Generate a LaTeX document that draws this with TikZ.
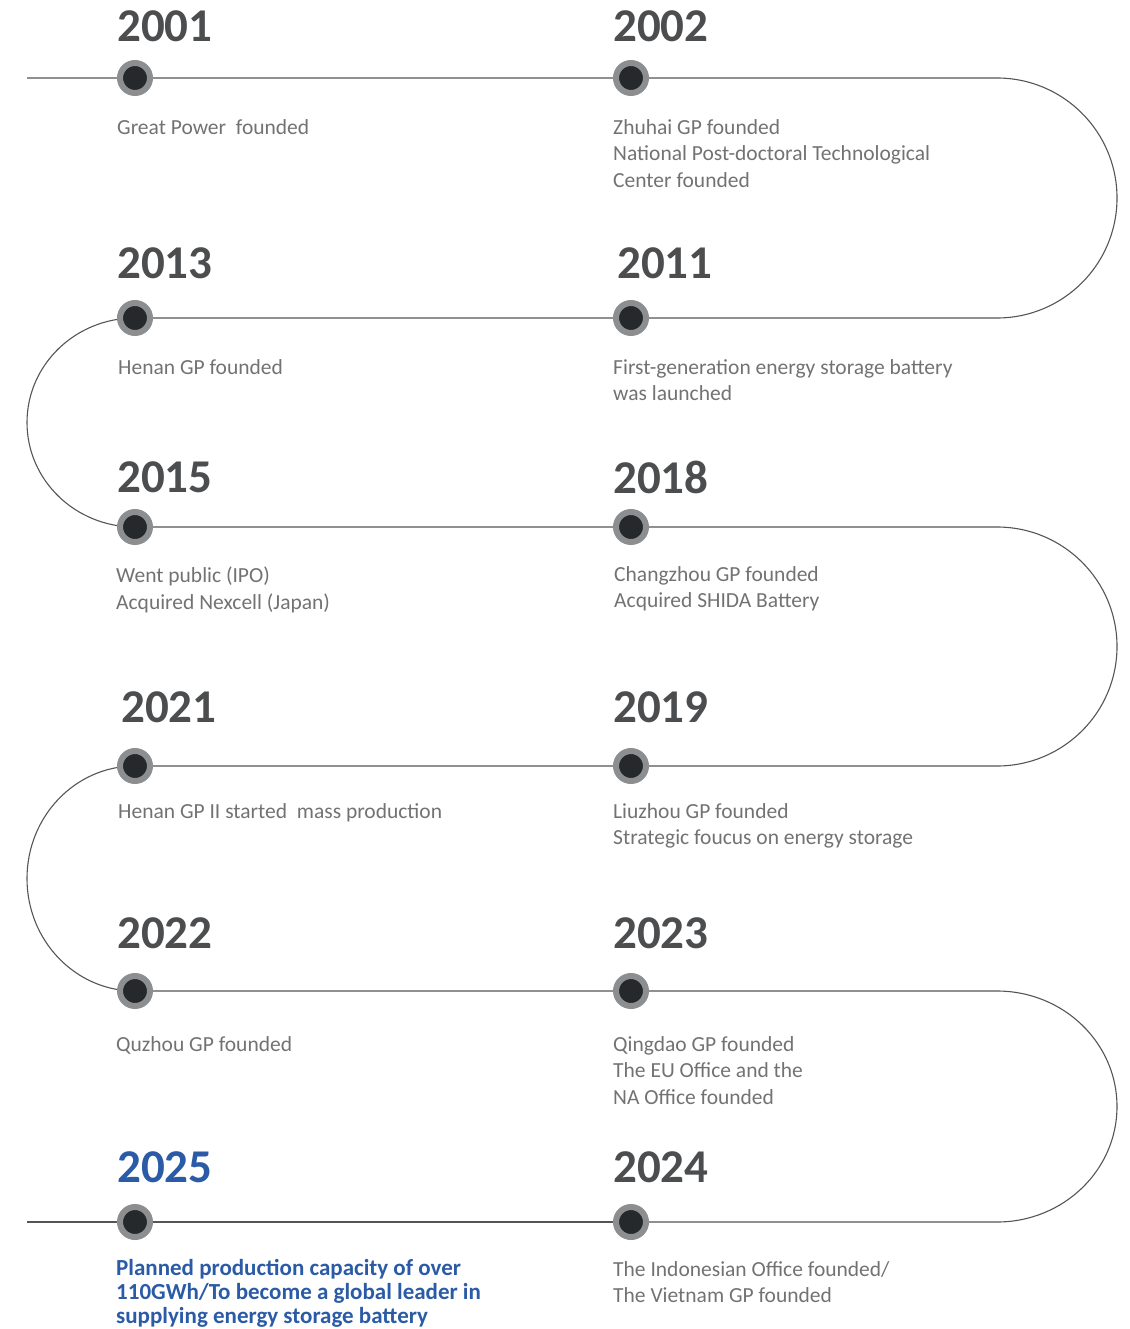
\documentclass[tikz,border=0pt]{standalone}
\usepackage{fontspec}
\setmainfont{Carlito}
\usetikzlibrary{backgrounds}
\definecolor{yeargray}{HTML}{4B4D4F}
\definecolor{textgray}{HTML}{727272}
\definecolor{linegray}{HTML}{555555}
\definecolor{ringgray}{HTML}{8C8E8F}
\definecolor{dotblack}{HTML}{26292C}
\definecolor{planblue}{HTML}{2B5BA6}
\tikzstyle{dot}=[circle,fill=dotblack,draw=ringgray,line width=6pt,minimum size=30pt,inner sep=0pt]
\tikzstyle{year}=[anchor=west,inner sep=0pt,text=yeargray,font=\fontsize{47}{47}\selectfont\bfseries]
\tikzstyle{event}=[anchor=north west,inner sep=0pt,align=left,text=textgray,font=\fontsize{21.5}{26.5}\selectfont]
\tikzstyle{track}=[draw=linegray,line width=1.1pt]

\begin{document}
\begin{tikzpicture}[x=1pt,y=-1pt]
   \useasboundingbox (0,0) rectangle (1129,1329);

    % dots on the track
    \foreach \x/\y/\name in {135/78/2001,631/78/2002,135/318/2013,631/318/2011,
                             135/527/2015,631/527/2018,135/766/2021,631/766/2019,
                             135/991/2022,631/991/2023,135/1222/2025,631/1222/2024}
        \node[dot] (d\name) at (\x,\y) {};

    % free ends of the track
    \coordinate (start) at (27,78);
    \coordinate (finish) at (27,1222);
    \foreach \y/\name in {78/r1,318/r2,527/r3,766/r4,991/r5,1222/r6}
        \coordinate (\name) at (997,\y);

    % years
    \foreach \x/\y/\name in {117/26/2001,613/26/2002,117/263/2013,617/263/2011,
                             117/477/2015,613/477/2018,121/707/2021,613/707/2019,
                             117/933/2022,613/933/2023,613/1167/2024}
        \node[year] (y\name) at (\x,\y) {\name};
    \node[year,text=planblue] (y2025) at (117,1167) {2025};

    % events
    \foreach \x/\y/\name/\label in {
        117/119/2001/{Great Power\ \ founded},
        613/119/2002/{Zhuhai GP founded\\National Post-doctoral Technological\\Center founded},
        118/359/2013/{Henan GP founded},
        613/359/2011/{First-generation energy storage battery\\was launched},
        116/567/2015/{Went public (IPO)\\Acquired Nexcell (Japan)},
        614/566/2018/{Changzhou GP founded\\Acquired SHIDA Battery},
        118/803/2021/{Henan GP II started\ \ mass production},
        613/803/2019/{Liuzhou GP founded\\Strategic foucus on energy storage},
        116/1036/2022/{Quzhou GP founded},
        613/1036/2023/{Qingdao GP founded\\The EU Office and the\\NA Office founded},
        613/1261/2024/{The Indonesian Office founded/\\The Vietnam GP founded}}
        \node[event] (t\name) at (\x,\y) {\label};
    \node[event,text=planblue,font=\fontsize{23}{24.2}\selectfont\bfseries] (t2025) at (116,1259)
        {Planned production capacity of over\\110GWh/To become a global leader in\\supplying energy storage battery};

    % the track itself, under the dots
    \begin{pgfonlayer}{background}
    \draw[track] (start) -- (d2001.center) -- (d2002.center) -- (r1)
        arc[start angle=90,end angle=-90,x radius=120pt,y radius=120pt] -- (d2011.center);
    \draw[track] (d2011.center) -- (d2013.center)
        arc[start angle=90,end angle=270,x radius=108pt,y radius=104.5pt] -- (d2015.center);
    \draw[track] (d2015.center) -- (d2018.center) -- (r3)
        arc[start angle=90,end angle=-90,x radius=120pt,y radius=119.5pt] -- (d2019.center);
    \draw[track] (d2019.center) -- (d2021.center)
        arc[start angle=90,end angle=270,x radius=108pt,y radius=112.5pt] -- (d2022.center);
    \draw[track] (d2022.center) -- (d2023.center) -- (r5)
        arc[start angle=90,end angle=-90,x radius=120pt,y radius=115.5pt] -- (d2024.center);
    \draw[track] (d2024.center) -- (d2025.center) -- (finish);
    \end{pgfonlayer}
\end{tikzpicture}
\end{document}
